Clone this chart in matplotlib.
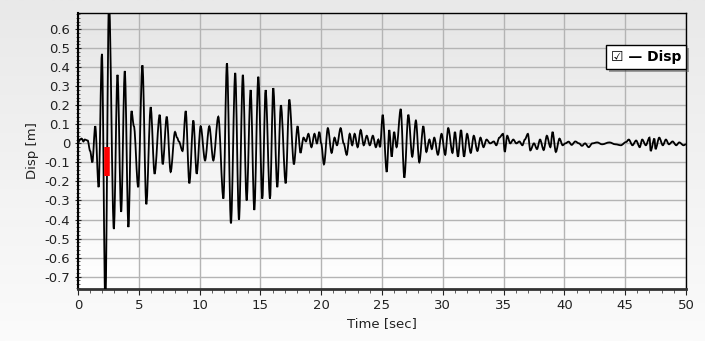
import numpy as np
import matplotlib
matplotlib.use("Agg")
import matplotlib.pyplot as plt
from matplotlib.ticker import MultipleLocator
from matplotlib.path import Path
from matplotlib.patches import PathPatch
import matplotlib.patheffects as pe

# peaks / troughs of the displacement trace
time_s = [0.0, 0.15, 0.3, 0.45, 0.55, 0.8, 1.0, 1.18, 1.42, 1.7, 1.97, 2.25, 2.55,
          2.95, 3.25, 3.55, 3.85, 4.15, 4.4, 4.6, 4.95, 5.3, 5.62, 5.98, 6.3,
          6.72, 6.97, 7.3, 7.62, 7.98, 8.15, 8.3, 8.6, 8.86, 9.16, 9.49, 9.76,
          10.09, 10.45, 10.8, 11.13, 11.54, 11.96, 12.25, 12.58, 12.93, 13.24,
          13.56, 13.87, 14.2, 14.5, 14.83, 15.16, 15.43, 15.79, 16.06, 16.39,
          16.69, 17.08, 17.38, 17.76, 18.06, 18.3, 18.55, 18.75, 18.95, 19.2,
          19.45, 19.65, 19.85, 20.0, 20.23, 20.55, 20.86, 21.1, 21.3, 21.6,
          21.85, 22.1, 22.35, 22.55, 22.75, 23.0, 23.25, 23.5, 23.75, 24.0,
          24.25, 24.5, 24.7, 24.84, 25.06, 25.39, 25.6, 25.8, 26.0, 26.2,
          26.54, 26.84, 27.17, 27.49, 27.79, 28.07, 28.4, 28.65, 28.9, 29.1,
          29.3, 29.6, 29.9, 30.2, 30.45, 30.8, 31.0, 31.25, 31.5, 31.75, 32.0,
          32.3, 32.55, 32.85, 33.1, 33.35, 33.6, 33.9, 34.2, 34.4, 34.65,
          34.95, 35.1, 35.3, 35.55, 35.8, 36.05, 36.3, 36.55, 36.75, 37.0,
          37.2, 37.5, 37.75, 38.0, 38.3, 38.56, 38.85, 39.03, 39.3, 39.6,
          39.86, 40.08, 40.35, 40.6, 40.9, 41.2, 41.45, 41.7, 42.0, 42.3,
          42.7, 43.1, 43.7, 44.2, 44.65, 45.07, 45.3, 45.6, 45.9, 46.2, 46.4,
          46.7, 47.0, 47.1, 47.4, 47.5, 47.8, 48.1, 48.35, 48.6, 48.9, 49.2,
          49.45, 49.8, 50.0]
disp_m = [0.0, 0.02, 0.025, 0.01, 0.02, 0.015, -0.04, -0.1, 0.09, -0.23, 0.47, -0.85, 0.75,
          -0.45, 0.36, -0.36, 0.38, -0.44, 0.17, 0.09, -0.23, 0.41, -0.32, 0.19, -0.16,
          0.15, -0.11, 0.14, -0.15, 0.06, 0.03, 0.01, -0.04, 0.17, -0.21, 0.12, -0.16,
          0.09, -0.09, 0.09, -0.09, 0.14, -0.29, 0.42, -0.42, 0.37, -0.40,
          0.36, -0.30, 0.28, -0.35, 0.35, -0.29, 0.28, -0.29, 0.29, -0.23,
          0.20, -0.21, 0.23, -0.11, 0.09, -0.05, 0.03, 0.01, 0.05, -0.02,
          0.05, 0.0, 0.06, 0.0, -0.11, 0.08, -0.05, 0.03, -0.01, 0.08,
          0.0, -0.06, 0.05, -0.01, 0.05, -0.02, 0.07, -0.01, 0.04, -0.01,
          0.04, -0.02, 0.02, -0.02, 0.15, -0.15, 0.07, -0.07, 0.06, -0.02,
          0.18, -0.18, 0.15, -0.07, 0.12, -0.10, 0.09, -0.045, 0.02, -0.03,
          0.03, -0.06, 0.05, -0.06, 0.08, -0.05, 0.06, -0.07, 0.07, -0.07, 0.05,
          -0.05, 0.04, -0.04, 0.03, -0.02, 0.02, 0.0, 0.01, -0.01, 0.03,
          0.05, -0.045, 0.04, 0.0, 0.02, 0.0, 0.01, -0.01, 0.02, 0.05,
          -0.037, 0.0, -0.03, 0.02, -0.035, 0.04, -0.02, 0.06, -0.045, 0.025,
          -0.01, 0.0, 0.009, -0.008, 0.01, 0.0, -0.013, 0.0, -0.02, 0.0,
          0.005, -0.005, 0.005, -0.005, -0.01, 0.007, 0.02, -0.01, 0.015, -0.02, 0.02,
          -0.01, 0.03, -0.04, 0.025, -0.03, 0.03, -0.01, 0.02, -0.005, 0.01, -0.01,
          0.005, -0.01, -0.005]

# red cursor marker
cursor_t = 2.4
cursor_lo = -0.17
cursor_hi = -0.02

fig = plt.figure(figsize=(7.05, 3.41), dpi=100)

# figure background gradient
bg = fig.add_axes([0, 0, 1, 1], zorder=-10)
grad = np.linspace(0, 1, 256).reshape(-1, 1)
bg.imshow(grad, aspect="auto", cmap=matplotlib.colors.LinearSegmentedColormap.from_list(
    "bg", ["#e9e9e9", "#fbfbfb"]), extent=[0, 1, 0, 1], origin="upper")
bg.axis("off")

ax = fig.add_axes([0.1106, 0.1525, 0.8624, 0.8095])
ax.patch.set_alpha(0)
ax.imshow(grad, aspect="auto", cmap=matplotlib.colors.LinearSegmentedColormap.from_list(
    "ax", ["#e6e6e6", "#ffffff"]), extent=[0, 1, 0, 1], origin="upper",
    transform=ax.transAxes, zorder=0)

# trace: cubic segments between the extrema, flat at each peak
verts = [(time_s[0], disp_m[0])]
codes = [Path.MOVETO]
for i in range(1, len(time_s)):
    t0, v0 = time_s[i - 1], disp_m[i - 1]
    t1, v1 = time_s[i], disp_m[i]
    h = (t1 - t0) * 0.33
    verts += [(t0 + h, v0), (t1 - h, v1), (t1, v1)]
    codes += [Path.CURVE4] * 3
trace = PathPatch(Path(verts, codes), fc="none", ec="black", lw=1.3, zorder=3)
ax.add_patch(trace)
ax.plot([cursor_t, cursor_t], [cursor_lo, cursor_hi], color="#ff0000", lw=4,
        solid_capstyle="butt", zorder=4)

ax.set_xlim(0, 50)
ax.set_ylim(-0.765, 0.685)
ax.xaxis.set_major_locator(MultipleLocator(5))
ax.xaxis.set_minor_locator(MultipleLocator(1))
ax.yaxis.set_minor_locator(MultipleLocator(0.02))
ticks_y = np.round(np.arange(-0.7, 0.61, 0.1), 1)
ax.set_yticks(ticks_y)
ax.set_yticklabels(["0" if abs(v) < 1e-9 else f"{v:.1f}" for v in ticks_y])
ax.grid(True, which="major", color="#b4b4b4", lw=1.0, zorder=1)
ax.set_axisbelow(True)

ax.tick_params(axis="both", which="major", labelsize=9.5, colors="#222222", length=4)
ax.tick_params(axis="both", which="minor", length=3, colors="#444444")
ax.tick_params(axis="y", which="both", direction="inout")
for s in ["top", "right"]:
    ax.spines[s].set_linewidth(1.0)
ax.spines["left"].set_linewidth(1.5)
ax.spines["bottom"].set_linewidth(2.0)
ax.spines["bottom"].set_color("#333333")

ax.set_xlabel("Time [sec]", fontsize=9.5, labelpad=3, color="#222222")
ax.set_ylabel("Disp [m]", fontsize=9.5, labelpad=4, color="#222222")

leg = ax.text(0.992, 0.84, "\u2611 \u2014 Disp", transform=ax.transAxes, ha="right", va="center",
              fontsize=10, fontweight="bold", zorder=6,
              bbox=dict(boxstyle="square,pad=0.35", fc="white", ec="black", lw=1))
leg.get_bbox_patch().set_path_effects([pe.SimplePatchShadow(offset=(2, -2), alpha=0.5), pe.Normal()])

fig.savefig("out.png", dpi=100)
